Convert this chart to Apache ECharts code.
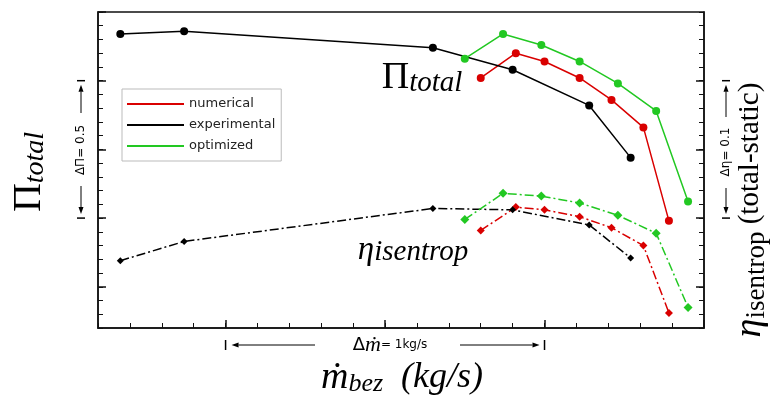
<!DOCTYPE html>
<html>
<head>
<meta charset="utf-8">
<script src="https://cdn.jsdelivr.net/npm/echarts@6/dist/echarts.min.js"></script>
<style>
  html, body { margin: 0; padding: 0; background: #fff; }
  #chart { width: 770px; height: 396px; }
</style>
</head>
<body>
<div id="chart"></div>
<script>
// mass flow m_bez (kg/s)
const mExp = [2.67, 2.87, 3.65, 3.90, 4.14, 4.27];
const mNum = [3.80, 3.91, 4.00, 4.11, 4.21, 4.31, 4.39];
const mOpt = [3.75, 3.87, 3.99, 4.11, 4.23, 4.35, 4.45];
// total pressure ratio
const piExp = [2.42, 2.43, 2.37, 2.29, 2.16, 1.97];
const piNum = [2.26, 2.35, 2.32, 2.26, 2.18, 2.08, 1.74];
const piOpt = [2.33, 2.42, 2.38, 2.32, 2.24, 2.14, 1.81];
// isentropic efficiency (total-static)
const etaExp = [0.769, 0.783, 0.807, 0.806, 0.795, 0.771];
const etaNum = [0.791, 0.808, 0.806, 0.801, 0.793, 0.780, 0.731];
const etaOpt = [0.799, 0.818, 0.816, 0.811, 0.802, 0.789, 0.735];
// major tick positions
const mTicks = [3.0, 3.5, 4.0, 4.5];
const piTicks = [1.5, 1.75, 2.0, 2.25, 2.5];
const etaTicks = [0.75, 0.8, 0.85, 0.9];
const names = ['numerical', 'experimental', 'optimized'];

const red = '#d90000', black = '#000000', green = '#22c822';
const serif = 'Liberation Serif';
const sans = 'DejaVu Sans';

const zip = (a, b) => a.map((v, i) => [v, b[i]]);

// minor tick positions between min and max with a fixed step
function steps(min, max, step) {
  const out = [];
  const n = Math.round((max - min) / step);
  for (let i = 0; i <= n; i++) out.push(+(min + i * step).toFixed(4));
  return out;
}

function piLine(name, color, m, p) {
  return {
    name: name, type: 'line', xAxisIndex: 0, yAxisIndex: 0,
    data: zip(m, p), symbol: 'circle', symbolSize: 8,
    lineStyle: { color: color, width: 1.5 },
    itemStyle: { color: color },
    z: 3
  };
}
function etaLine(name, color, m, e, size) {
  return {
    name: name + ' η', type: 'line', xAxisIndex: 0, yAxisIndex: 2,
    data: zip(m, e), symbol: 'diamond', symbolSize: size,
    lineStyle: { color: color, width: 1.5, type: [9, 3, 2, 3] },
    itemStyle: { color: color },
    z: 3
  };
}

function axis(min, max, pos, major) {
  return {
    type: 'value', gridIndex: 0, min: min, max: max, position: pos,
    splitLine: { show: false },
    axisLabel: { show: false },
    axisLine: { show: true, lineStyle: { color: '#111', width: 1.5 } },
    axisTick: { show: true, inside: true, length: 8, customValues: major, lineStyle: { color: '#111', width: 1.5 } },
    minorTick: { show: false }
  };
}
function minorAxis(min, max, pos, step) {
  return {
    type: 'value', gridIndex: 0, min: min, max: max, position: pos,
    splitLine: { show: false },
    axisLabel: { show: false },
    axisLine: { show: true, lineStyle: { color: 'rgba(0,0,0,0)', width: 0 } },
    axisTick: { show: true, inside: true, length: 5, customValues: steps(min, max, step), lineStyle: { color: '#111', width: 1 } }
  };
}

const chart = echarts.init(document.getElementById('chart'));

chart.setOption({
  animation: false,
  backgroundColor: '#fff',
  grid: { left: 98, right: 66, top: 12, bottom: 68, show: true, borderColor: '#111', borderWidth: 1.5 },
  legend: {
    data: names,
    orient: 'vertical',
    left: 122, top: 89,
    icon: 'rect', itemWidth: 57, itemHeight: 2, itemGap: 7,
    padding: [8, 6, 8, 5],
    borderColor: '#bbb', borderWidth: 1, backgroundColor: '#fff',
    textStyle: { fontFamily: sans, fontSize: 13, color: '#222', lineHeight: 14 }
  },
  xAxis: [
    axis(2.6, 4.5, 'bottom', mTicks),
    minorAxis(2.6, 4.5, 'bottom', 0.1)
  ],
  yAxis: [
    axis(1.35, 2.5, 'left', piTicks),
    minorAxis(1.35, 2.5, 'left', 0.05),
    axis(0.72, 0.95, 'right', etaTicks),
    minorAxis(0.72, 0.95, 'right', 0.01)
  ],
  series: [
    piLine('numerical', red, mNum, piNum),
    piLine('experimental', black, mExp, piExp),
    piLine('optimized', green, mOpt, piOpt),
    etaLine('numerical', red, mNum, etaNum, 8),
    etaLine('experimental', black, mExp, etaExp, 7),
    etaLine('optimized', green, mOpt, etaOpt, 9),
    // empty series so the minor-tick axes are bound to the grid
    { type: 'line', xAxisIndex: 1, yAxisIndex: 1, data: [], silent: true },
    { type: 'line', xAxisIndex: 1, yAxisIndex: 3, data: [], silent: true }
  ]
});

// annotations placed from the axis scales
const px = v => chart.convertToPixel({ xAxisIndex: 0 }, v);
const pyL = v => chart.convertToPixel({ yAxisIndex: 0 }, v);
const pyR = v => chart.convertToPixel({ yAxisIndex: 2 }, v);

function seg(x1, y1, x2, y2, w) {
  return { type: 'line', shape: { x1, y1, x2, y2 }, style: { stroke: '#000', lineWidth: w || 1 } };
}
function arrow(x1, y1, x2, y2) {
  const a = Math.atan2(y2 - y1, x2 - x1), L = 7, W = 2.5;
  const bx = x2 - L * Math.cos(a), by = y2 - L * Math.sin(a);
  return [
    seg(x1, y1, bx, by, 1),
    { type: 'polygon', shape: { points: [[x2, y2], [bx + W * Math.sin(a), by - W * Math.cos(a)], [bx - W * Math.sin(a), by + W * Math.cos(a)]] }, style: { fill: '#000' } }
  ];
}
function text(x, y, str, rich, rot) {
  return {
    type: 'text', x: x, y: y, rotation: rot || 0,
    style: { text: str, rich: rich, align: 'center', verticalAlign: 'middle', fill: '#000' }
  };
}

const g = [];
// bottom: delta m = 1 kg/s
const xa = px(mTicks[0]), xb = px(mTicks[2]), ya = 345;
g.push(seg(xa, ya - 5, xa, ya + 5, 1.5), seg(xb, ya - 5, xb, ya + 5, 1.5));
g.push(...arrow(315, ya, xa + 6, ya), ...arrow(460, ya, xb - 5, ya));
g.push(text(390, ya, '{d|Δ}{m|ṁ}{t|= 1kg/s}', {
  d: { fontFamily: sans, fontSize: 18, fill: '#000' },
  m: { fontFamily: serif, fontStyle: 'italic', fontSize: 22, fill: '#000' },
  t: { fontFamily: sans, fontSize: 12, fill: '#000' }
}));
// left: delta Pi = 0.5
const yl1 = pyL(piTicks[3]), yl2 = pyL(piTicks[1]), xl = 81;
g.push(seg(xl - 4, yl1, xl + 4, yl1, 1.5), seg(xl - 4, yl2, xl + 4, yl2, 1.5));
g.push(...arrow(xl, 186, xl, yl2 - 4), ...arrow(xl, 113, xl, yl1 + 4));
g.push(text(xl, 150, 'ΔΠ= 0.5', { a: {} }, Math.PI / 2));
g[g.length - 1].style.font = '12px ' + sans;
// right: delta eta = 0.1
const yr1 = pyR(etaTicks[3]), yr2 = pyR(etaTicks[1]), xr = 726;
g.push(seg(xr - 4, yr1, xr + 4, yr1, 1.5), seg(xr - 4, yr2, xr + 4, yr2, 1.5));
g.push(...arrow(xr, 188, xr, yr2 - 4), ...arrow(xr, 117, xr, yr1 + 4));
g.push(text(xr, 152, 'Δη= 0.1', { a: {} }, Math.PI / 2));
g[g.length - 1].style.font = '12px ' + sans;

// axis titles
g.push(text(29, 172, '{p|Π}{s|total}', {
  p: { fontFamily: serif, fontSize: 40, lineHeight: 42, fill: '#000' },
  s: { fontFamily: serif, fontStyle: 'italic', fontSize: 28, lineHeight: 28, verticalAlign: 'bottom', fill: '#000' }
}, Math.PI / 2));
g.push(text(750, 210, '{e|η}{s|isentrop}{t| (total-static)}', {
  e: { fontFamily: serif, fontStyle: 'italic', fontSize: 38, lineHeight: 40, fill: '#000' },
  s: { fontFamily: serif, fontSize: 27, lineHeight: 27, verticalAlign: 'bottom', fill: '#000' },
  t: { fontFamily: serif, fontSize: 29, lineHeight: 40, fill: '#000' }
}, Math.PI / 2));
g.push(text(402, 378, '{m|ṁ}{s|bez}{t|  (kg/s)}', {
  m: { fontFamily: serif, fontStyle: 'italic', fontSize: 38, lineHeight: 38, fill: '#000' },
  s: { fontFamily: serif, fontStyle: 'italic', fontSize: 26, lineHeight: 26, verticalAlign: 'bottom', fill: '#000' },
  t: { fontFamily: serif, fontStyle: 'italic', fontSize: 36, lineHeight: 38, fill: '#000' }
}));
// in-plot labels
g.push(text(422, 78, '{p|Π}{s|total}', {
  p: { fontFamily: serif, fontSize: 38, lineHeight: 40, fill: '#000' },
  s: { fontFamily: serif, fontStyle: 'italic', fontSize: 29, lineHeight: 29, verticalAlign: 'bottom', fill: '#000' }
}));
g.push(text(413, 250, '{e|η}{s|isentrop}', {
  e: { fontFamily: serif, fontStyle: 'italic', fontSize: 33, lineHeight: 34, fill: '#000' },
  s: { fontFamily: serif, fontStyle: 'italic', fontSize: 29, lineHeight: 29, verticalAlign: 'bottom', fill: '#000' }
}));

chart.setOption({ graphic: g });
</script>
</body>
</html>
